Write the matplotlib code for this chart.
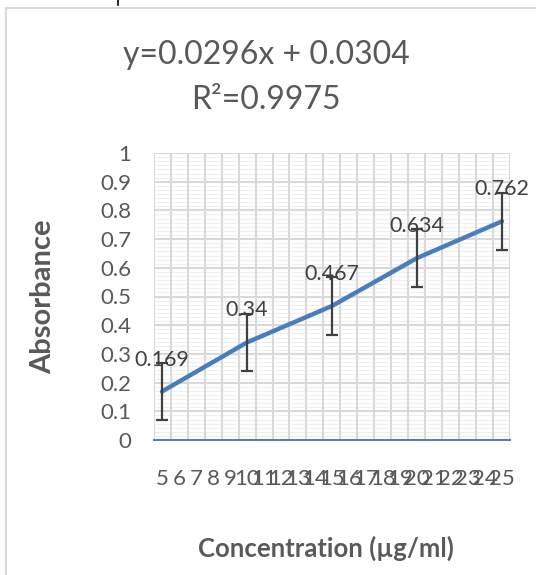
import numpy as np
import matplotlib
matplotlib.use('Agg')
import matplotlib.pyplot as plt
from matplotlib.patches import Rectangle
from matplotlib.lines import Line2D

plt.rcParams['font.family'] = ['Lato', 'DejaVu Sans']

# 数据
categories = list(range(5, 26))          # x 轴刻度 5..25
conc = [5, 10, 15, 20, 25]               # 浓度
absorb = [0.169, 0.34, 0.467, 0.634, 0.762]
err = [0.1, 0.1, 0.1, 0.1, 0.1]
labels = ['0.169', '0.34', '0.467', '0.634', '0.762']
yticks = [0, 0.1, 0.2, 0.3, 0.4, 0.5, 0.6, 0.7, 0.8, 0.9, 1]

W, H = 536, 575
fig = plt.figure(figsize=(W / 100, H / 100), dpi=100)
ax = fig.add_axes([153.5 / W, 135 / H, 357 / W, 287 / H])

grey = '#595959'
blue = '#4a7ebb'

# 网格线
for yy in np.arange(0, 1.0001, 0.1 / 7):
    ax.axhline(yy, color='#efefef', lw=0.8, zorder=0)
for yy in yticks:
    ax.axhline(yy, color='#d9d9d9', lw=1.5, zorder=0.5)
for xx in np.arange(4.5, 26, 1):
    ax.axvline(xx, color='#d9d9d9', lw=1.5, zorder=0.5)

ax.plot(conc, absorb, color=blue, lw=3.2, solid_capstyle='round', zorder=3)
ax.errorbar(conc, absorb, yerr=err, fmt='none', ecolor='#404040',
            elinewidth=1.6, capsize=4, capthick=1.6, zorder=4)
for x, y, t in zip(conc, absorb, labels):
    ax.annotate(t, (x, y), xytext=(0, 23), textcoords='offset points',
                ha='center', va='center', fontsize=15.5, color='#404040',
                zorder=5)

ax.set_xlim(4.5, 25.5)
ax.set_ylim(0, 1)
ax.set_xticks(categories)
ax.set_xticklabels([str(c) for c in categories])
ax.set_yticks(yticks)
ax.set_yticklabels([f'{v:g}' for v in yticks])
ax.tick_params(axis='both', length=0, labelsize=16, colors=grey)
ax.tick_params(axis='y', pad=16)
ax.tick_params(axis='x', pad=21)
for s in ['top', 'right', 'left']:
    ax.spines[s].set_visible(False)
ax.spines['bottom'].set_color(blue)
ax.spines['bottom'].set_linewidth(1.4)
ax.spines['bottom'].set_zorder(6)

ax.set_ylabel('Absorbance', fontsize=21, fontweight='bold', color=grey)
ax.yaxis.set_label_coords((43 - 153.5) / 357, 0.5)
ax.yaxis.label.set_va('center')
ax.set_xlabel('Concentration (µg/ml)', fontsize=18.5, fontweight='bold',
              color=grey)
ax.xaxis.set_label_coords((326 - 153.5) / 357, (440 - 548) / 287)
ax.xaxis.label.set_va('center')

fig.text(266 / W, 1 - 55 / H, 'y=0.0296x + 0.0304', ha='center', va='center',
         fontsize=23, color=grey)
fig.text(266 / W, 1 - 100 / H, 'R²=0.9975', ha='center', va='center',
         fontsize=23, color=grey)

# 外框
fig.patches.append(Rectangle((6 / W, -0.05), 1.1, 1 - 8 / H + 0.05,
                             transform=fig.transFigure, fill=False,
                             edgecolor='#d9d9d9', lw=1.5))
fig.lines.append(Line2D([118 / W, 118 / W], [1, 1 - 5 / H],
                        transform=fig.transFigure, color='black', lw=1.2))

fig.savefig('out.png', dpi=100)
